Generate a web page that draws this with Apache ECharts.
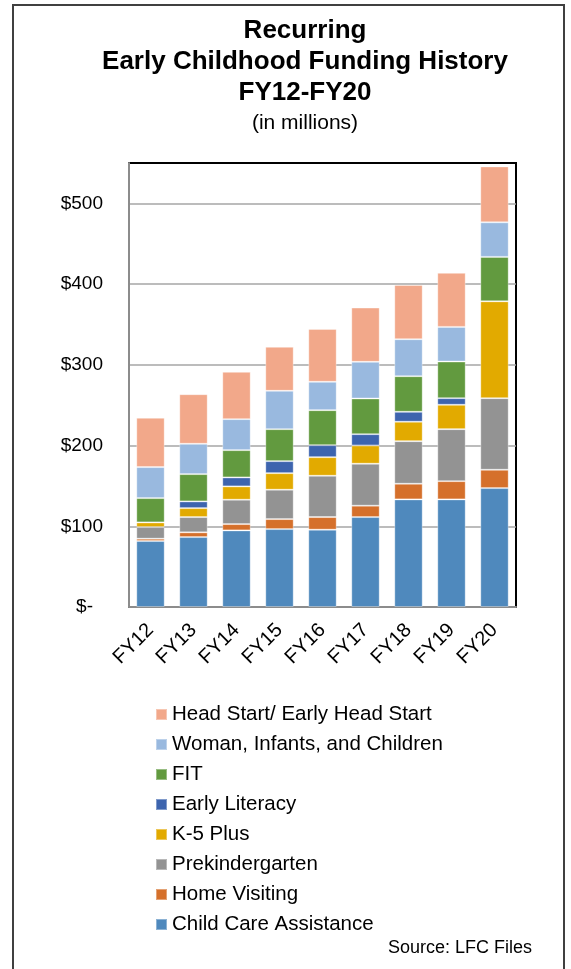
<!DOCTYPE html>
<html>
<head>
<meta charset="utf-8">
<title>Early Childhood Funding History</title>
<script src="https://cdn.jsdelivr.net/npm/echarts@6/dist/echarts.min.js"></script>
<style>
html,body{margin:0;padding:0;background:#fff;}
#charts{width:571px;height:969px;}
</style>
</head>
<body>
<div id="charts"></div>
<script>
// 横轴类目
let years=['FY12','FY13','FY14','FY15','FY16','FY17','FY18','FY19','FY20'];
// 各项数据（百万美元），从下往上堆叠
let childCare=[81.7,86.6,94.9,96.5,95.8,111.4,133.3,133.3,147.3];
let homeVisiting=[2.9,5.9,7.8,12.4,15.6,14.1,19.4,22.6,22.7];
let preK=[14.4,18.9,30.2,36.4,51.2,52.0,52.7,64.4,88.7];
let k5Plus=[5.8,11.1,16.5,20.5,23.0,22.6,24.1,30.2,120.0];
let earlyLiteracy=[0,8.3,11.1,14.9,14.9,14.0,12.3,8.2,0];
let fit=[30.1,33.8,33.8,39.6,43.3,44.2,44.1,45.4,55.0];
let wic=[38.4,37.6,38.4,47.5,35.2,45.4,45.8,42.9,42.8];
let headStart=[61.1,61.4,58.6,54.5,65.5,67.2,67.3,66.9,69.3];
// 纵轴刻度
let yTicks=[0,100,200,300,400,500];

let seriesList=[
  {name:'Child Care Assistance',data:childCare,color:'#4F89BD'},
  {name:'Home Visiting',data:homeVisiting,color:'#D5702B'},
  {name:'Prekindergarten',data:preK,color:'#939393'},
  {name:'K-5 Plus',data:k5Plus,color:'#E2AA00'},
  {name:'Early Literacy',data:earlyLiteracy,color:'#3D64AE'},
  {name:'FIT',data:fit,color:'#629A3F'},
  {name:'Woman, Infants, and Children',data:wic,color:'#99B9DF'},
  {name:'Head Start/ Early Head Start',data:headStart,color:'#F2A88A'}
];

let font='"Liberation Sans", Arial, sans-serif';
let chart=echarts.init(document.getElementById('charts'));

chart.setOption({
  animation:false,
  title:{
    text:'Recurring\nEarly Childhood Funding History\nFY12-FY20',
    subtext:'(in millions)',
    left:300,
    top:10,
    textAlign:'center',
    itemGap:3,
    textStyle:{fontFamily:font,fontSize:26,fontWeight:'bold',color:'#000',lineHeight:31},
    subtextStyle:{fontFamily:font,fontSize:21,color:'#000',lineHeight:25}
  },
  legend:{
    orient:'vertical',
    left:150,
    top:699,
    itemWidth:11,
    itemHeight:11,
    itemGap:9,
    icon:'rect',
    // 图例顺序与堆叠顺序相反
    data:seriesList.map(s=>s.name).reverse(),
    textStyle:{fontFamily:font,fontSize:20.5,color:'#000',lineHeight:21}
  },
  grid:{
    left:129,
    right:55,
    top:163,
    bottom:362,
    show:true,
    borderColor:'#000',
    borderWidth:2
  },
  xAxis:{
    type:'category',
    data:years,
    axisLine:{lineStyle:{color:'#8C8C8C',width:2}},
    axisTick:{show:false},
    axisLabel:{
      rotate:45,
      interval:0,
      margin:20,
      fontFamily:font,
      fontSize:20,
      color:'#000'
    }
  },
  yAxis:{
    type:'value',
    min:yTicks[0],
    max:550,
    interval:yTicks[1]-yTicks[0],
    axisLine:{show:true,lineStyle:{color:'#8C8C8C',width:2}},
    axisTick:{show:false},
    // 顶部不画网格线，保留黑色边框
    splitLine:{showMaxLine:false,lineStyle:{color:'#A6A6A6',width:1.5}},
    axisLabel:{
      showMaxLabel:false,
      margin:26,
      fontFamily:font,
      fontSize:19,
      color:'#000',
      formatter:function(v){
        if(v===0) return '{z|$-}';
        if(v>500) return '';
        return '$'+v;
      },
      rich:{z:{fontFamily:font,fontSize:19,color:'#000',padding:[0,10,0,0]}}
    }
  },
  series:seriesList.map(s=>({
    name:s.name,
    type:'bar',
    stack:'total',
    barCategoryGap:'34%',
    data:s.data,
    itemStyle:{color:s.color,borderColor:'rgba(255,255,255,0.35)',borderWidth:1}
  })),
  graphic:[
    {
      // 外框
      type:'rect',
      shape:{x:13,y:5,width:551,height:980},
      style:{fill:'none',stroke:'#404040',lineWidth:2},
      silent:true
    },
    {
      type:'text',
      x:532,
      y:948,
      style:{
        text:'Source: LFC Files',
        fontFamily:font,
        fontSize:18,
        fill:'#000',
        align:'right',
        verticalAlign:'middle'
      }
    }
  ]
});
</script>
</body>
</html>
